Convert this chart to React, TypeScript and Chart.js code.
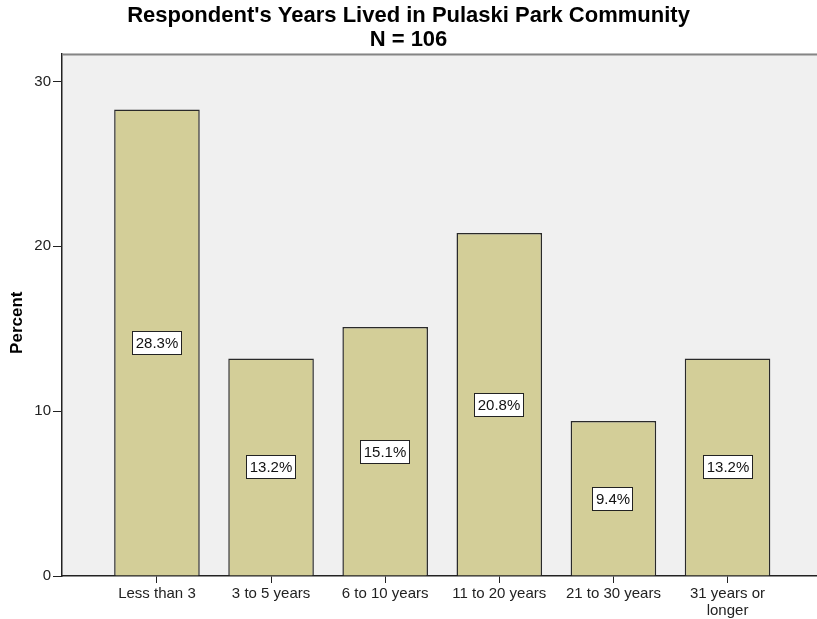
import React, { useEffect, useRef } from "react";
import { Chart, registerables } from "chart.js";

Chart.register(...registerables);

const categories: (string | string[])[] = [
  "Less than 3",
  "3 to 5 years",
  "6 to 10 years",
  "11 to 20 years",
  "21 to 30 years",
  ["31 years or", "longer"],
];
const percents: number[] = [28.3, 13.2, 15.1, 20.8, 9.4, 13.2];
const valueLabels: string[] = ["28.3%", "13.2%", "15.1%", "20.8%", "9.4%", "13.2%"];
const titleLines: string[] = ["Respondent's Years Lived in Pulaski Park Community", "N = 106"];
const yAxisTitle = "Percent";

const FONT = "'Liberation Sans', Arial, Helvetica, sans-serif";

const plotBg = {
  id: "plotBg",
  beforeDraw(chart: any) {
    const { ctx, chartArea } = chart;
    ctx.save();
    ctx.fillStyle = "#f0f0f0";
    ctx.fillRect(chartArea.left, chartArea.top, chartArea.right - chartArea.left, chartArea.bottom - chartArea.top);
    ctx.restore();
  },
  afterDraw(chart: any) {
    const { ctx, chartArea } = chart;
    ctx.save();
    ctx.strokeStyle = "#858585";
    ctx.lineWidth = 2;
    ctx.beginPath();
    ctx.moveTo(chartArea.left, chartArea.top + 1);
    ctx.lineTo(chartArea.right, chartArea.top + 1);
    ctx.stroke();
    // y-axis title, drawn rotated
    ctx.fillStyle = "#000";
    ctx.font = `bold 17px ${FONT}`;
    ctx.textAlign = "center";
    ctx.textBaseline = "middle";
    ctx.translate(17, (chartArea.top + chartArea.bottom) / 2 + 8);
    ctx.rotate(-Math.PI / 2);
    ctx.fillText(yAxisTitle, 0, 0);
    ctx.restore();
  },
};

const boxLabels = {
  id: "boxLabels",
  afterDatasetsDraw(chart: any) {
    const { ctx } = chart;
    const meta = chart.getDatasetMeta(0);
    const yScale = chart.scales.y;
    ctx.save();
    ctx.font = `15px ${FONT}`;
    ctx.textAlign = "center";
    ctx.textBaseline = "middle";
    meta.data.forEach((bar: any, i: number) => {
      const text = valueLabels[i];
      const cx = Math.round(bar.x);
      const cy = Math.round(yScale.getPixelForValue(percents[i] / 2));
      const w = Math.round(ctx.measureText(text).width + 7);
      const h = 24;
      const x0 = cx - Math.round(w / 2);
      const y0 = cy - Math.round(h / 2);
      ctx.fillStyle = "#ffffff";
      ctx.fillRect(x0, y0, w, h);
      ctx.strokeStyle = "#222222";
      ctx.lineWidth = 1;
      ctx.strokeRect(x0 + 0.5, y0 + 0.5, w - 1, h - 1);
      ctx.fillStyle = "#111111";
      ctx.fillText(text, cx, cy + 1);
    });
    ctx.restore();
  },
};

export default function App() {
  const ref = useRef<HTMLCanvasElement | null>(null);

  useEffect(() => {
    if (!ref.current) return;
    const chart = new Chart(ref.current, {
      type: "bar",
      data: {
        datasets: [
          {
            data: percents.map((v, i) => ({ x: i, y: v })),
            backgroundColor: "#d3ce98",
            borderColor: "#2a2a2a",
            borderWidth: 1.5,
            categoryPercentage: 0.75,
            barPercentage: 1,
          } as any,
        ],
      },
      options: {
        animation: false,
        responsive: false,
        maintainAspectRatio: false,
        layout: { padding: 0 },
        plugins: {
          legend: { display: false },
          tooltip: { enabled: false },
          title: {
            display: true,
            text: titleLines,
            color: "#000",
            font: { family: FONT, size: 22, weight: "bold", lineHeight: 1.1 },
            padding: { top: 4, bottom: 1 },
          },
        },
        scales: {
          x: {
            type: "linear",
            min: -0.832,
            max: 5.784,
            offset: false,
            afterFit: (s: any) => {
              s.height = 43;
            },
            grid: {
              display: true,
              offset: false,
              drawOnChartArea: false,
              drawTicks: true,
              tickLength: 7,
              tickColor: "#222",
            },
            border: { display: true, color: "#222", width: 1.5 },
            ticks: {
              stepSize: 1,
              includeBounds: false,
              autoSkip: false,
              maxRotation: 0,
              minRotation: 0,
              padding: 3,
              color: "#222",
              font: { family: FONT, size: 15, lineHeight: 1.1 },
              callback: (v: any) => {
                const n = Number(v);
                return Number.isInteger(n) && categories[n] !== undefined ? (categories[n] as any) : "";
              },
            },
          } as any,
          y: {
            type: "linear",
            min: 0,
            max: 31.7,
            afterFit: (s: any) => {
              s.width = 62;
            },
            grid: {
              display: true,
              drawOnChartArea: false,
              drawTicks: true,
              tickLength: 9,
              tickColor: "#222",
            },
            border: { display: true, color: "#222", width: 1.5 },
            ticks: {
              stepSize: 10,
              includeBounds: false,
              padding: 2,
              color: "#222",
              font: { family: FONT, size: 15 },
            },
            title: { display: false },
          } as any,
        },
      },
      plugins: [plotBg, boxLabels],
    });
    return () => chart.destroy();
  }, []);

  return (
    <div style={{ position: "fixed", left: 0, top: 0, width: 817, height: 619, background: "#fff" }}>
      <canvas ref={ref} width={817} height={619} style={{ width: 817, height: 619, display: "block" }} />
    </div>
  );
}
